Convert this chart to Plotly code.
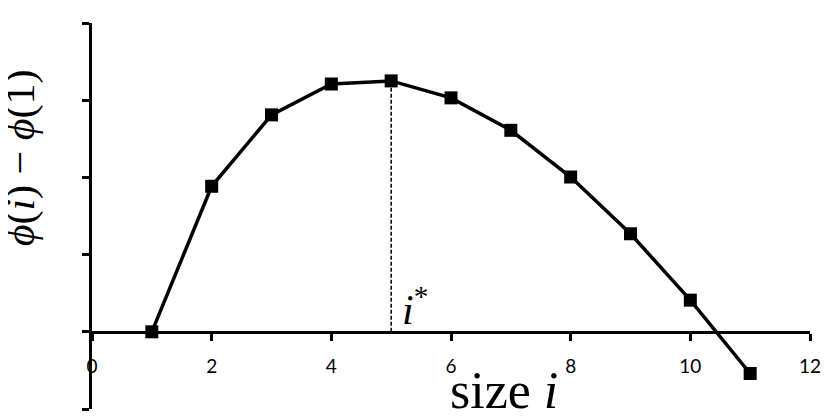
"""Concave curve phi(i) - phi(1) versus size i, with the maximum i* marked."""
import plotly.graph_objects as go

size_i = [1, 2, 3, 4, 5, 6, 7, 8, 9, 10, 11]
phi_diff = [0, 1.885, 2.81, 3.21, 3.25, 3.03, 2.61, 2.005, 1.27, 0.41, -0.54]
i_star = 5
x_ticks = [0, 2, 4, 6, 8, 10, 12]
y_ticks = [-1, 0, 1, 2, 3, 4]

serif = "Liberation Serif"

fig = go.Figure()

# dashed line from the axis up to the peak
peak = phi_diff[size_i.index(i_star)]
fig.add_trace(go.Scatter(x=[i_star, i_star], y=[0, peak], mode='lines',
                         line=dict(color='black', width=1.5, dash='4px,2px'),
                         showlegend=False, hoverinfo='skip'))

fig.add_trace(go.Scatter(x=size_i, y=phi_diff, mode='lines+markers',
                         line=dict(color='black', width=3.5),
                         marker=dict(symbol='square', size=13, color='black'),
                         showlegend=False))

fig.update_xaxes(range=[0, 12], tickvals=x_ticks, ticks='outside', ticklen=7,
                 tickwidth=3, tickcolor='black', showline=True, linewidth=3,
                 linecolor='black', showgrid=False, zeroline=False,
                 anchor='free', position=0.2, ticklabelstandoff=9,
                 tickfont=dict(family='Lato', size=19, color='black'))
fig.update_yaxes(range=[-1, 4], tickvals=y_ticks, ticks='outside', ticklen=7,
                 tickwidth=3, tickcolor='black', showline=True, linewidth=3,
                 linecolor='black', showgrid=False, zeroline=False,
                 showticklabels=False)

# axis titles and the i* label
fig.add_annotation(text='<i>ϕ</i>(<i>i</i>) − <i>ϕ</i>(1)', xref='paper', yref='paper',
                   x=-0.1, y=0.65, textangle=-90, showarrow=False,
                   xanchor='center', yanchor='middle',
                   font=dict(family=serif, size=42, color='black'))
fig.add_annotation(text='size <i>i</i>', xref='paper', yref='paper',
                   x=0.574, y=-0.03, showarrow=False,
                   xanchor='center', yanchor='bottom',
                   font=dict(family=serif, size=52, color='black'))
fig.add_annotation(text='<i>i</i><sup>*</sup>', x=i_star, y=0,
                   showarrow=False, xanchor='left', yanchor='bottom',
                   xshift=9, yshift=-3,
                   font=dict(family=serif, size=42, color='black'))

# page body adds an 8px offset, so the figure is sized to leave it
fig.update_layout(width=823, height=411,
                  margin=dict(l=84, r=19, t=15, b=10),
                  paper_bgcolor='white', plot_bgcolor='white')

fig.write_html("out.html")
